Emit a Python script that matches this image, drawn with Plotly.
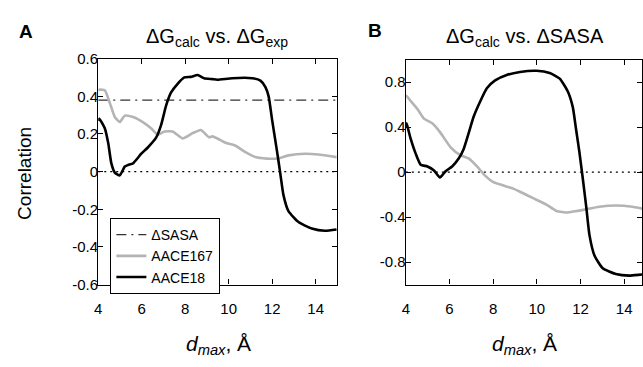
import plotly.graph_objects as go

# ---------------- data ----------------
# Panel A: dG_calc vs dG_exp
dmax_A18 = [4.0, 4.05, 4.3, 4.46, 4.6, 4.76, 4.99, 5.22, 5.37, 5.6, 5.98, 6.28, 6.66, 6.89, 7.12, 7.35,
            7.65, 7.96, 8.26, 8.57, 8.87, 9.25, 9.48, 10.16, 11.08, 11.46, 11.69, 11.84, 11.99,
            12.22, 12.37, 12.52, 12.75, 13.21, 13.82, 14.43, 14.96]
corr_A18 = [0.27, 0.28, 0.23, 0.15, 0.045, -0.005, -0.02, 0.027, 0.035, 0.044, 0.095, 0.128, 0.18, 0.247,
            0.35, 0.42, 0.466, 0.50, 0.503, 0.513, 0.496, 0.491, 0.488, 0.496, 0.496, 0.483, 0.449,
            0.398, 0.28, 0.11, -0.007, -0.125, -0.21, -0.268, -0.302, -0.314, -0.307]

dmax_A167 = [4.0, 4.05, 4.3, 4.53, 4.76, 4.99, 5.22, 5.6, 6.05, 6.43, 6.74, 7.05, 7.42, 7.88, 8.34, 8.72,
             9.1, 9.25, 9.48, 9.86, 10.32, 10.77, 11.23, 11.76, 12.22, 12.75, 13.51, 14.12, 14.96]
corr_A167 = [0.43, 0.435, 0.432, 0.365, 0.29, 0.263, 0.297, 0.29, 0.263, 0.23, 0.196, 0.213, 0.213, 0.176,
             0.204, 0.221, 0.182, 0.187, 0.176, 0.153, 0.137, 0.103, 0.077, 0.069, 0.069, 0.086,
             0.095, 0.091, 0.077]

sasa_corr_A = 0.38
sasa_x = [4, 15]

# Panel B: dG_calc vs dSASA
dmax_B18 = [4.0, 4.05, 4.23, 4.45, 4.68, 4.99, 5.29, 5.56, 5.82, 6.12, 6.42, 6.65, 6.88, 7.1, 7.41, 7.71,
            8.09, 8.62, 9.23, 9.99, 10.59, 11.05, 11.42, 11.65, 11.8, 11.95, 12.1, 12.26, 12.41,
            12.64, 13.02, 13.62, 14.23, 14.83, 15.0]
corr_B18 = [0.44, 0.42, 0.29, 0.164, 0.065, 0.05, 0.014, -0.048, 0.008, 0.05, 0.12, 0.206, 0.348, 0.49,
            0.63, 0.745, 0.815, 0.863, 0.89, 0.9, 0.88, 0.83, 0.716, 0.575, 0.376, 0.178, -0.048,
            -0.303, -0.558, -0.741, -0.855, -0.906, -0.92, -0.91, -0.91]

dmax_B167 = [4.0, 4.05, 4.23, 4.53, 4.83, 5.21, 5.59, 6.05, 6.5, 6.88, 7.26, 7.64, 8.01, 8.47, 8.92, 9.23,
             9.83, 10.44, 10.9, 11.42, 11.88, 12.26, 12.86, 13.62, 14.38, 14.83, 15.0]
corr_B167 = [0.68, 0.673, 0.63, 0.56, 0.475, 0.433, 0.348, 0.22, 0.15, 0.121, 0.05, -0.034, -0.09, -0.119,
             -0.147, -0.175, -0.232, -0.289, -0.345, -0.359, -0.345, -0.331, -0.308, -0.297,
             -0.308, -0.325, -0.33]

zero_x = [4, 15]
zero_y = [0, 0]

xticks = [4, 6, 8, 10, 12, 14]
yticks_A = [-0.6, -0.4, -0.2, 0, 0.2, 0.4, 0.6]
yticks_B = [-0.8, -0.4, 0, 0.4, 0.8]

# ---------------- layout helpers ----------------
W, H = 643, 367
def fx(p): return p / W
def fy(p): return 1 - p / H

FONT = "Liberation Sans, Arial, Helvetica, sans-serif"
GRAY = "#b4b4b4"
LW = 2.6
DOT = "2px,4px"
DASHDOT = "10px,5px,2px,5px"

fig = go.Figure()

# Panel A
fig.add_trace(go.Scatter(x=zero_x, y=zero_y, mode="lines", line=dict(color="black", width=1.2, dash=DOT),
                         showlegend=False, xaxis="x", yaxis="y", hoverinfo="skip"))
fig.add_trace(go.Scatter(x=sasa_x, y=[sasa_corr_A] * len(sasa_x), mode="lines", name="ΔSASA",
                         line=dict(color="#333333", width=1.2, dash=DASHDOT), xaxis="x", yaxis="y"))
fig.add_trace(go.Scatter(x=dmax_A167, y=corr_A167, mode="lines", name="AACE167",
                         line=dict(color=GRAY, width=LW, shape="spline", smoothing=0.5), xaxis="x", yaxis="y"))
fig.add_trace(go.Scatter(x=dmax_A18, y=corr_A18, mode="lines", name="AACE18",
                         line=dict(color="black", width=LW, shape="spline", smoothing=0.5), xaxis="x", yaxis="y"))

# Panel B
fig.add_trace(go.Scatter(x=zero_x, y=zero_y, mode="lines", line=dict(color="black", width=1.2, dash=DOT),
                         showlegend=False, xaxis="x2", yaxis="y2", hoverinfo="skip"))
fig.add_trace(go.Scatter(x=dmax_B167, y=corr_B167, mode="lines", showlegend=False,
                         line=dict(color=GRAY, width=LW, shape="spline", smoothing=0.5), xaxis="x2", yaxis="y2"))
fig.add_trace(go.Scatter(x=dmax_B18, y=corr_B18, mode="lines", showlegend=False,
                         line=dict(color="black", width=LW, shape="spline", smoothing=0.5), xaxis="x2", yaxis="y2"))

axis_common = dict(showline=True, linecolor="black", linewidth=1.3, mirror="ticks", ticks="inside",
                   ticklen=5, tickwidth=1.3, tickcolor="black", showgrid=False, zeroline=False,
                   tickfont=dict(family=FONT, size=15, color="black"))

top_A, top_B, bot = 52, 53, 289
fig.update_layout(
    width=W, height=H, margin=dict(l=0, r=0, t=0, b=0),
    paper_bgcolor="white", plot_bgcolor="white",
    font=dict(family=FONT, color="black"),
    xaxis=dict(domain=[fx(95), fx(336)], range=[4, 15], tickvals=xticks, anchor="y",
               ticklabelstandoff=10, **axis_common),
    yaxis=dict(domain=[fy(bot), fy(top_A)], range=[-0.6, 0.6], tickvals=yticks_A,
               ticktext=["-0.6", "-0.4", "-0.2", "0", "0.2", "0.4", "0.6"], anchor="x",
               ticklabelstandoff=-4, **axis_common),
    xaxis2=dict(domain=[fx(405), 1.0], range=[4, 4 + (643 - 405) / 22.0], tickvals=xticks, anchor="y2",
                ticklabelstandoff=10, **axis_common),
    yaxis2=dict(domain=[fy(bot), fy(top_B)], range=[-1.0, 1.0], tickvals=yticks_B,
                ticktext=["-0.8", "-0.4", "0", "0.4", "0.8"], anchor="x2",
                ticklabelstandoff=-4, **axis_common),
    legend=dict(x=fx(107), y=fy(219), xanchor="left", yanchor="top", bgcolor="white",
                bordercolor="black", borderwidth=1.2, font=dict(family=FONT, size=14, color="black"),
                tracegroupgap=0, itemwidth=30),
    showlegend=True,
)

ann = []
def add_text(text, x, y, size, bold=False, angle=0):
    if bold:
        text = "<b>" + text + "</b>"
    ann.append(dict(text=text, x=fx(x), y=fy(y), xref="paper", yref="paper", showarrow=False,
                    xanchor="center", yanchor="middle", textangle=angle,
                    font=dict(family=FONT, size=size, color="black")))

add_text("ΔG<sub>calc</sub> vs. ΔG<sub>exp</sub>", 215, 30, 20)
add_text("ΔG<sub>calc</sub> vs. ΔSASA", 525, 30, 20)
add_text("A", 22, 24, 19, bold=True)
add_text("B", 374, 23, 19, bold=True)
add_text("Correlation", 20, 172, 19, angle=-90)
add_text("<i>d<sub>max</sub></i>, Å", 216, 352, 21)
add_text("<i>d<sub>max</sub></i>, Å", 525, 352, 21)
fig.update_layout(annotations=ann)

fig.write_html("out.html")
